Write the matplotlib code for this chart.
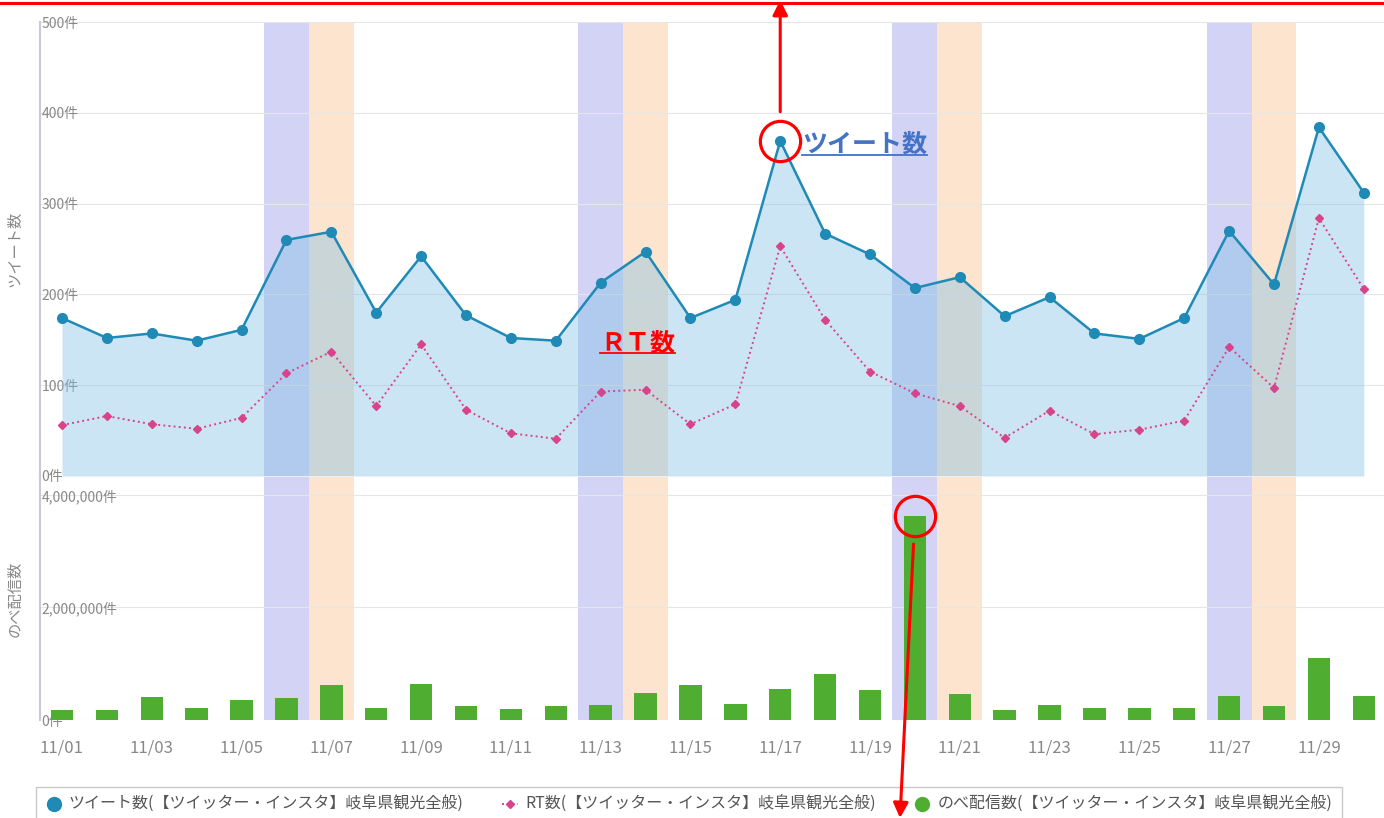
import matplotlib
matplotlib.use('Agg')
from matplotlib import pyplot as plt
from matplotlib.lines import Line2D
from matplotlib.transforms import blended_transform_factory
import numpy as np

plt.rcParams['font.family'] = ['Noto Sans CJK JP', 'DejaVu Sans']

# daily values, 2021/11
dates = ['11/%02d' % d for d in range(1, 31)]
tweets = [174, 152, 157, 149, 161, 260, 269, 180, 242, 177,
          152, 149, 213, 247, 174, 194, 369, 267, 244, 207,
          219, 176, 197, 157, 151, 174, 270, 211, 384, 312]
retweets = [56, 66, 57, 52, 64, 113, 137, 77, 145, 73,
            47, 41, 93, 95, 57, 79, 253, 172, 115, 91,
            77, 42, 72, 46, 51, 61, 142, 97, 284, 206]
reach = [0.18, 0.18, 0.41, 0.21, 0.36, 0.39, 0.62, 0.21, 0.64, 0.25,
         0.20, 0.25, 0.27, 0.48, 0.62, 0.28, 0.55, 0.82, 0.53, 3.62,
         0.46, 0.18, 0.27, 0.21, 0.21, 0.21, 0.43, 0.25, 1.10, 0.43]
reach = [v * 1e6 for v in reach]
saturdays = ['11/06', '11/13', '11/20', '11/27']
sundays = ['11/07', '11/14', '11/21', '11/28']
series_name = '【ツイッター・インスタ】岐阜県観光全般'

BLUE = '#1f8ab5'
PINK = '#d8448c'
GREEN = '#4fae32'
GRAY = '#888888'

x = np.arange(len(dates))

fig = plt.figure(figsize=(13.84, 8.18), dpi=100)
ax1 = fig.add_axes([0.0289, 0.4181, 0.9711, 0.555])
ax2 = fig.add_axes([0.0289, 0.1198, 0.9711, 0.2971])
ax2.set_zorder(6)
ax2.patch.set_alpha(0)

for ax in (ax1, ax2):
    for d in saturdays:
        i = dates.index(d)
        ax.axvspan(i - 0.5, i + 0.5, color='#d3d3f5', lw=0, zorder=0)
    for d in sundays:
        i = dates.index(d)
        ax.axvspan(i - 0.5, i + 0.5, color='#fde4cf', lw=0, zorder=0)
    ax.set_xlim(-0.49, 29.45)
    for s in ('top', 'right', 'bottom'):
        ax.spines[s].set_visible(False)
    ax.spines['left'].set_color('#c9c9dc')
    ax.spines['left'].set_linewidth(1.5)
    ax.grid(axis='y', color='#e6e6e6', lw=0.8, zorder=0.5)
    ax.set_axisbelow(True)
    ax.tick_params(axis='y', length=0, pad=-1, labelsize=10, labelcolor=GRAY)

# top panel: tweets and RT
ax1.fill_between(x, tweets, 0, color='#7fbfe4', alpha=0.4, lw=0, zorder=1)
ax1.plot(x, tweets, color=BLUE, lw=1.8, marker='o', ms=7, zorder=3)
ax1.plot(x, retweets, color=PINK, lw=1.4, ls=':', marker='D', ms=4.2, zorder=3)
ax1.set_ylim(0, 500)
ax1.set_yticks([0, 100, 200, 300, 400, 500])
ax1.set_yticklabels(['%d件' % v for v in [0, 100, 200, 300, 400, 500]])
for lbl in ax1.get_yticklabels():
    lbl.set_horizontalalignment('left')
ax1.set_xticks([])
ax1.set_ylabel('ツイート数', fontsize=11, color=GRAY)
ax1.yaxis.set_label_coords(-0.0125, 0.5)

# bottom panel: reach
ax2.bar(x, reach, width=0.5, color=GREEN, zorder=2)
ax2.set_ylim(0, 4.32e6)
ax2.set_yticks([0, 2e6, 4e6])
ax2.set_yticklabels(['0件', '2,000,000件', '4,000,000件'])
for lbl in ax2.get_yticklabels():
    lbl.set_horizontalalignment('left')
ax2.set_xticks(x[::2])
ax2.set_xticklabels(dates[::2])
ax2.tick_params(axis='x', length=0, pad=14, labelsize=12, labelcolor=GRAY)
ax2.set_ylabel('のべ配信数', fontsize=11, color=GRAY)
ax2.yaxis.set_label_coords(-0.0125, 0.5)

# legend
handles = [
    Line2D([], [], color=BLUE, marker='o', ls='none', ms=10),
    Line2D([], [], color=PINK, marker='D', ls=':', ms=4.5, lw=1.4),
    Line2D([], [], color=GREEN, marker='o', ls='none', ms=10),
]
labels = ['ツイート数(' + series_name + ')',
          'RT数(' + series_name + ')',
          'のべ配信数(' + series_name + ')']
leg = fig.legend(handles, labels, loc='lower left', bbox_to_anchor=(0.026, -0.006),
                 ncol=3, fontsize=11.5, frameon=True, fancybox=False,
                 edgecolor='#bbbbbb', handlelength=1.0, handletextpad=0.45,
                 columnspacing=2.4, borderpad=0.6, borderaxespad=0)
leg.get_frame().set_linewidth(1.0)
for t in leg.get_texts():
    t.set_color('#555555')

# annotations
fig.add_artist(Line2D([0, 1], [0.9963, 0.9963], color='red', lw=2.2))

i17 = dates.index('11/17')
ax1.plot(i17, tweets[i17], 'o', ms=29, mfc='none', mec='red', mew=2.3, zorder=5)
top_tr = blended_transform_factory(ax1.transData, fig.transFigure)
ax1.annotate('', xy=(i17, 1.0), xycoords=top_tr,
             xytext=(i17, tweets[i17]), textcoords='data',
             arrowprops=dict(arrowstyle='-|>,head_length=0.9,head_width=0.45',
                             color='red', lw=2.2, shrinkA=21, shrinkB=0))
t1 = ax1.annotate('ツイート数', xy=(i17, tweets[i17]), xytext=(16, -3),
                  textcoords='offset points', fontsize=18, fontweight='bold',
                  color='#4472c4', va='center', ha='left', zorder=6)
t2 = ax1.text(11.98, 146, 'ＲＴ数', fontsize=18, fontweight='bold',
              color='red', va='center', ha='left', zorder=6)

i20 = dates.index('11/20')
ax2.plot(i20, reach[i20], 'o', ms=29, mfc='none', mec='red', mew=2.3, zorder=5)
ax2.annotate('', xy=(900 / 1384, 0.0), xycoords='figure fraction',
             xytext=(i20, reach[i20]), textcoords='data',
             arrowprops=dict(arrowstyle='-|>,head_length=0.9,head_width=0.45',
                             color='red', lw=2.2, shrinkA=20, shrinkB=0),
             annotation_clip=False)

# underline the two labels
fig.canvas.draw()
inv = fig.transFigure.inverted()
for t, c in ((t1, '#4472c4'), (t2, 'red')):
    bb = t.get_window_extent()
    (x0, y0), (x1_, _) = inv.transform([(bb.x0, bb.y0 + 2), (bb.x1, bb.y0 + 2)])
    fig.add_artist(Line2D([x0, x1_], [y0, y0], color=c, lw=1.3))

fig.savefig('out.png', dpi=100)
